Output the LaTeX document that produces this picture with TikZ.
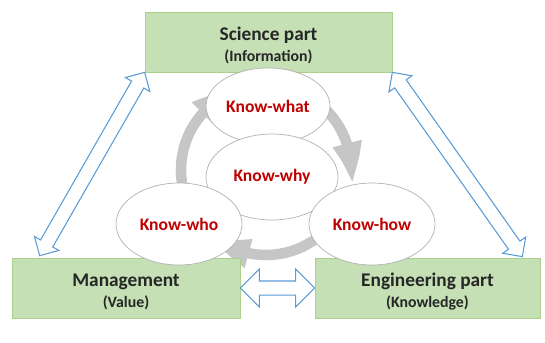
\documentclass[tikz,border=0pt]{standalone}
\usepackage{fontspec}
\setmainfont{Carlito}
\usepackage{tikz}
\usetikzlibrary{arrows.meta,bending,positioning,shapes,calc}
\pgfdeclarelayer{edgelayer}
\pgfdeclarelayer{nodelayer}
\pgfsetlayers{edgelayer,nodelayer,main}
\definecolor{boxgreen}{RGB}{197,224,180}
\definecolor{boxline}{RGB}{169,209,142}
\definecolor{knowred}{RGB}{192,0,0}
\definecolor{arrowblue}{RGB}{91,155,213}
\definecolor{cyclegray}{RGB}{198,198,198}
\tikzstyle{partbox}=[rectangle,fill=boxgreen,draw=boxline,minimum height=1.2cm,align=center,inner sep=0pt,text=black!85]
\tikzstyle{knowbubble}=[ellipse,fill=white,draw=gray!60,text=knowred,inner sep=0pt,font=\bfseries\fontsize{10}{12}\selectfont]
\tikzstyle{fatarrow}=[double arrow,draw=arrowblue,fill=white,line width=0.6pt,inner xsep=0pt,inner ysep=3.7pt,minimum width=0pt,double arrow head extend=6.8pt,double arrow tip angle=90]
\tikzstyle{cyclearrow}=[line width=6pt,draw=cyclegray,-{Triangle[length=24pt,width=15pt,bend]}]
\newcommand{\parttext}[2]{\rule{0pt}{12pt}{\fontsize{11}{12}\selectfont\bfseries #1}\\[0pt]{\fontsize{9}{11}\selectfont\bfseries #2}}

\begin{document}
\begin{tikzpicture}[x=0.02cm,y=-0.02cm]
	\useasboundingbox (0,0) rectangle (545,342);
	\begin{pgfonlayer}{nodelayer}
		\node [style=partbox, minimum width=4.94cm] (Sci) at (268.5,42) {\parttext{Science part}{(Information)}};
		\node [style=partbox, minimum width=4.56cm] (Mgmt) at (126,288) {\parttext{Management}{(Value)}};
		\node [style=partbox, minimum width=4.5cm] (Eng) at (427.5,288) {\parttext{Engineering part}{(Knowledge)}};
		\node [style=knowbubble, minimum width=2.48cm, minimum height=1.52cm] (What) at (268,106) {Know-what};
		\node [style=knowbubble, minimum width=2.64cm, minimum height=1.72cm] (Why) at (272,177) {Know-why};
		\node [style=knowbubble, minimum width=2.52cm, minimum height=1.64cm] (Who) at (179,224) {Know-who};
		\node [style=knowbubble, minimum width=2.52cm, minimum height=1.64cm] (How) at (372,224) {Know-how};
	\end{pgfonlayer}
	\begin{pgfonlayer}{edgelayer}
		% cycle behind the bubbles
		\draw [style=cyclearrow] (266,170) ++(-60:85) arc [start angle=-60, end angle=10, radius=85];
		\draw [style=cyclearrow] (266,170) ++(20:85) arc [start angle=20, end angle=130, radius=85];
		\draw [style=cyclearrow] (266,170) ++(135:85) arc [start angle=135, end angle=250, radius=85];
	\end{pgfonlayer}
	\coordinate (LeftLow) at ($(Mgmt.north west)+(28,-2)$);
	\coordinate (RightLow) at ($(Eng.north east)+(-18,-1)$);
	\path let \p1=($(Sci.south west)-(LeftLow)$), \n1={veclen(\x1,\y1)} in (LeftLow) -- (Sci.south west) node [style=fatarrow, double arrow head extend=4pt, midway, sloped, minimum height=\n1] (ArrL) {};
	\path let \p1=($(Sci.south east)-(RightLow)$), \n1={veclen(\x1,\y1)} in (RightLow) -- (Sci.south east) node [style=fatarrow, double arrow head extend=4pt, midway, sloped, minimum height=\n1] (ArrR) {};
	\path let \p1=($(Eng.west)-(Mgmt.east)$), \n1={veclen(\x1,\y1)} in (Mgmt.east) -- (Eng.west) node [style=fatarrow, midway, sloped, minimum height=\n1] (ArrB) {};
\end{tikzpicture}
\end{document}
